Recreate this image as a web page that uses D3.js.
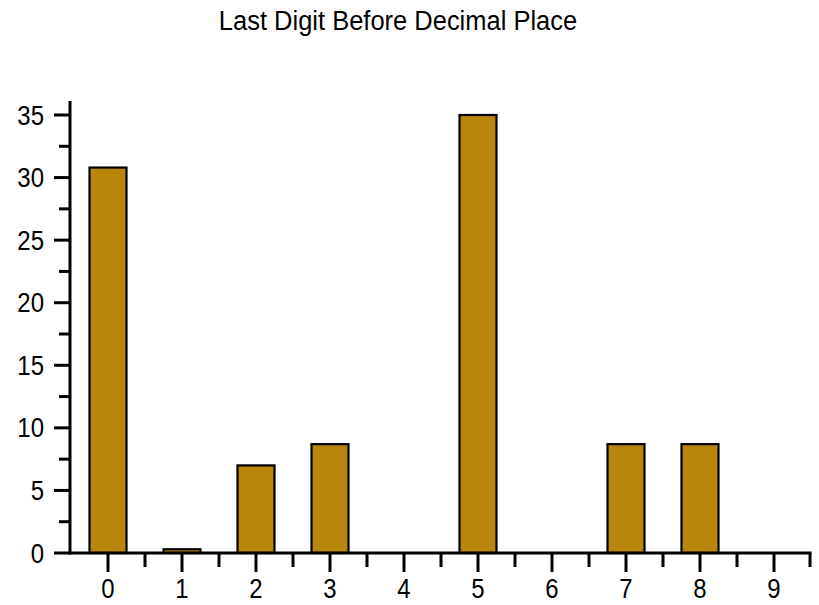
<!DOCTYPE html>
<html><head><meta charset="utf-8">
<script src="https://cdn.jsdelivr.net/npm/d3@7"></script>
<style>body{margin:0;background:#fff}svg{display:block}</style>
</head><body>
<script>
const title = "Last Digit Before Decimal Place";
const categories = ["0","1","2","3","4","5","6","7","8","9"];
const values = [30.8, 0.3, 7.0, 8.7, 0, 35.0, 0, 8.7, 8.7, 0];
const yTicks = [0,5,10,15,20,25,30,35];
const yMinorTicks = [2.5,7.5,12.5,17.5,22.5,27.5,32.5];

const W = 819, H = 605;
const svg = d3.select("body").append("svg").attr("width", W).attr("height", H);
const font = "'Liberation Sans', Arial, sans-serif";

const x = d3.scaleBand().domain(categories).range([71, 811]).paddingInner(0.5).paddingOuter(0.25);
const xb = d3.scaleBand().domain(categories).range([71, 811]);
const y = d3.scaleLinear().domain([0, 35]).range([553, 115]);

svg.append("text").attr("transform", "translate(398,30) scale(1,1.05)").attr("text-anchor", "middle")
  .attr("font-family", font).attr("font-size", 25.5).attr("fill", "#000").text(title);

// bars
svg.selectAll("rect.bar").data(values.map((v,i)=>({c:categories[i],v}))).enter()
  .filter(d => d.v > 0)
  .append("rect").attr("class","bar")
  .attr("x", d => x(d.c)).attr("width", x.bandwidth())
  .attr("y", d => y(d.v)).attr("height", d => y(0) - y(d.v))
  .attr("fill", "#B8860B").attr("stroke", "#000").attr("stroke-width", 2.2);

// y axis
const g = svg.append("g");
g.append("line").attr("x1", 70).attr("x2", 70).attr("y1", 101).attr("y2", 554.5)
  .attr("stroke", "#000").attr("stroke-width", 3);
g.selectAll("line.ymaj").data(yTicks).enter().append("line")
  .attr("x1", 54).attr("x2", 70).attr("y1", d => y(d)).attr("y2", d => y(d))
  .attr("stroke", "#000").attr("stroke-width", 3);
g.selectAll("line.ymin").data(yMinorTicks).enter().append("line")
  .attr("x1", 59).attr("x2", 70).attr("y1", d => y(d)).attr("y2", d => y(d))
  .attr("stroke", "#000").attr("stroke-width", 3);
g.selectAll("text.yl").data(yTicks).enter().append("text")
  .attr("transform", d => `translate(44,${y(d) + 9.5}) scale(1,1.15)`).attr("text-anchor", "end")
  .attr("font-family", font).attr("font-size", 24).attr("fill", "#000").text(d => d);

// x axis
g.append("line").attr("x1", 68.5).attr("x2", 811.5).attr("y1", 553).attr("y2", 553)
  .attr("stroke", "#000").attr("stroke-width", 3);
const bounds = categories.slice(1).map(c => xb(c)).concat([xb.range()[1] - 1]);
g.selectAll("line.xmin").data(bounds).enter().append("line")
  .attr("x1", d => d).attr("x2", d => d).attr("y1", 553).attr("y2", 567)
  .attr("stroke", "#000").attr("stroke-width", 3);
g.selectAll("line.xmaj").data(categories).enter().append("line")
  .attr("x1", d => xb(d) + xb.bandwidth()/2).attr("x2", d => xb(d) + xb.bandwidth()/2)
  .attr("y1", 553).attr("y2", 572)
  .attr("stroke", "#000").attr("stroke-width", 3);
g.selectAll("text.xl").data(categories).enter().append("text")
  .attr("transform", d => `translate(${xb(d) + xb.bandwidth()/2},598) scale(1,1.12)`).attr("text-anchor", "middle")
  .attr("font-family", font).attr("font-size", 24).attr("fill", "#000").text(d => d);
</script>
</body></html>
